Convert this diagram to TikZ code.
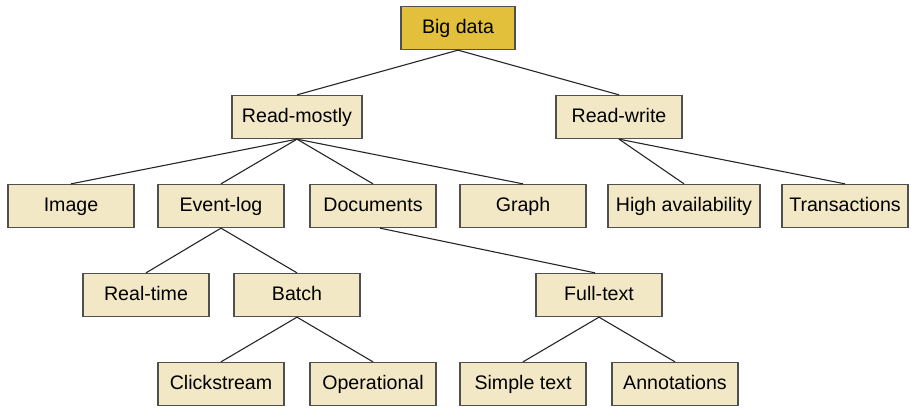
\documentclass[tikz,border=0pt]{standalone}
\usepackage{fontspec}
\setmainfont{Liberation Sans}
\usepackage{tikz}
\usetikzlibrary{positioning}

\definecolor{boxfill}{RGB}{243,232,197}
\definecolor{rootfill}{RGB}{226,192,60}
\definecolor{boxline}{RGB}{80,80,80}

\begin{document}
\begin{tikzpicture}[x=1pt, y=-1pt,
    cat/.style={rectangle, draw=boxline, line width=1.3pt, fill=boxfill, minimum width=126pt, minimum height=43pt, inner sep=0pt, text height=14pt, text depth=4pt, font=\fontsize{19.6}{22}\selectfont},
    root/.style={cat, fill=rootfill, minimum width=114pt},
    link/.style={line width=1.1pt, black!85}]
    \useasboundingbox (0,0) rectangle (922,416);

    \node[root] (bigdata) at (458,28) {Big data};

    \node[cat, minimum width=130pt] (readmostly) at (297,117) {Read-mostly};
    \node[cat] (readwrite) at (619,117) {Read-write};

    \node[cat] (image) at (71,206) {Image};
    \node[cat] (eventlog) at (221,206) {Event-log};
    \node[cat] (documents) at (373,206) {Documents};
    \node[cat] (graph) at (523,206) {Graph};
    \node[cat, minimum width=152pt] (highavail) at (684,206) {High availability};
    \node[cat] (transactions) at (845,206) {Transactions};

    \node[cat] (realtime) at (146,295) {Real-time};
    \node[cat] (batch) at (297,295) {Batch};
    \node[cat] (fulltext) at (599,295) {Full-text};

    \node[cat] (clickstream) at (221,384) {Clickstream};
    \node[cat] (operational) at (373,384) {Operational};
    \node[cat] (simpletext) at (523,384) {Simple text};
    \node[cat] (annotations) at (675,384) {Annotations};

    \draw[link] (bigdata.south) -- (readmostly.north);
    \draw[link] (bigdata.south) -- (readwrite.north);

    \draw[link] (readmostly.south) -- (image.north);
    \draw[link] (readmostly.south) -- (eventlog.north);
    \draw[link] (readmostly.south) -- (documents.north);
    \draw[link] (readmostly.south) -- (graph.north);

    \draw[link] (readwrite.south) -- (highavail.north);
    \draw[link] (readwrite.south) -- (transactions.north);

    \draw[link] (eventlog.south) -- (realtime.north);
    \draw[link] (eventlog.south) -- (batch.north);
    \draw[link] ([xshift=7pt]documents.south) -- ([xshift=-4pt]fulltext.north);

    \draw[link] (batch.south) -- (clickstream.north);
    \draw[link] (batch.south) -- (operational.north);
    \draw[link] (fulltext.south) -- (simpletext.north);
    \draw[link] (fulltext.south) -- (annotations.north);
\end{tikzpicture}
\end{document}
